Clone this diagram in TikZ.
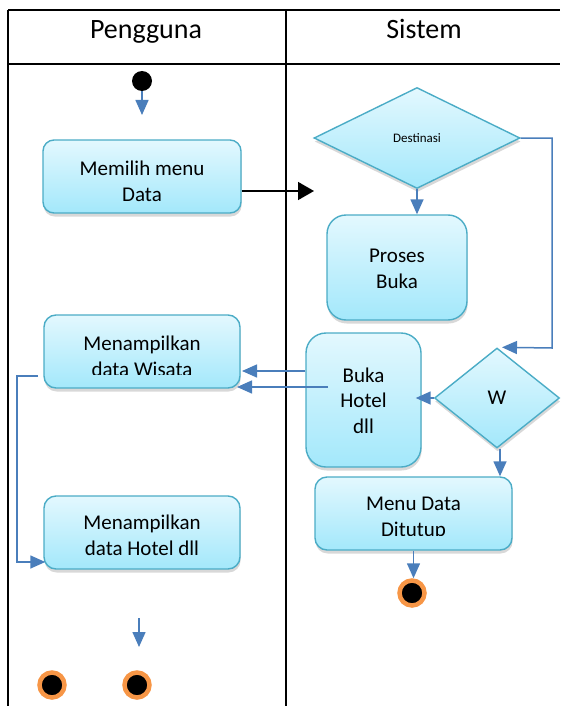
\documentclass[tikz,border=0pt]{standalone}
\usepackage{fontspec}
\setmainfont{Carlito}
\usetikzlibrary{arrows.meta,shapes.geometric,shadows}
\definecolor{boxborder}{HTML}{4BACC6}
\definecolor{boxtop}{HTML}{E3F8FE}
\definecolor{boxbot}{HTML}{A3E8FB}
\definecolor{arrowblue}{HTML}{4A7EBB}
\definecolor{endorange}{HTML}{F79646}
\begin{document}
\begin{tikzpicture}[x=1pt,y=-1pt,
  tbl/.style={draw=black,line width=1.4pt},
  hdr/.style={font=\fontsize{28pt}{34pt}\selectfont,inner sep=0pt,anchor=base},
  txt/.style={font=\fontsize{21pt}{25.5pt}\selectfont,align=center,inner sep=0pt},
  shadowed/.style={drop shadow={shadow xshift=0.6pt,shadow yshift=-3.5pt,opacity=0.28,fill=black!55}},
  actbox/.style={draw=boxborder,line width=1.4pt,rounded corners=#1,
    top color=boxtop,bottom color=boxbot,shadowed,inner sep=0pt},
  decision/.style={diamond,draw=boxborder,line width=1.4pt,
    top color=boxtop,bottom color=boxbot,shadowed,inner sep=0pt},
  startdot/.style={circle,fill=black,minimum size=20pt,inner sep=0pt},
  enddot/.style={circle,fill=black,draw=endorange,line width=4.5pt,minimum size=25pt,inner sep=0pt},
  arr/.style={draw=arrowblue,line width=1.5pt,-{Triangle[length=15pt,width=13pt]}},
  blk/.style={draw=black,line width=1.5pt,-{Triangle[length=16pt,width=18pt]}}
]
\useasboundingbox (0,0) rectangle (560,706);

% swimlane frame
\draw[tbl] (8,10) -- (560,10);
\draw[tbl] (8,64) -- (560,64);
\draw[tbl] (8,10) -- (8,706);
\draw[tbl] (286,10) -- (286,706);

\node[hdr] (pengguna) at (146,39) {Pengguna};
\node[hdr] (sistem) at (424,39) {Sistem};

% start / end
\node[startdot] (start) at (142,81) {};
\node[enddot] (end1) at (412,593) {};
\node[enddot] (end2) at (52,685) {};
\node[enddot] (end3) at (137,685) {};

% activities
\node[actbox=11pt,minimum width=198pt,minimum height=73pt] (memilih) at (142,176.5) {};
\node[txt] (memilih-t) at (142,181.5) {Memilih menu\\Data};

\node[decision,minimum width=206pt,minimum height=101pt,
  font=\fontsize{13pt}{15pt}\selectfont] (dest) at (417,138) {Destinasi};

\node[actbox=19pt,minimum width=140pt,minimum height=105pt] (proses) at (397,267.5) {};
\node[txt] (proses-t) at (397,269) {Proses\\Buka};

\node[actbox=12pt,minimum width=196pt,minimum height=73pt] (wisata) at (142,351.5) {};
\begin{scope}
  \clip (0,0) rectangle (560,374);
  \node[txt] (wisata-t) at (142,356.5) {Menampilkan\\data Wisata};
\end{scope}

\node[actbox=20pt,minimum width=115pt,minimum height=134pt] (buka) at (363.5,400) {};
\node[txt] (buka-t) at (363.5,400.5) {Buka\\Hotel\\dll};

\node[decision,minimum width=125pt,minimum height=100pt,
  font=\fontsize{21pt}{25pt}\selectfont] (w) at (497,398) {W};

\node[actbox=12pt,minimum width=196pt,minimum height=73pt] (hotel) at (142,532.5) {};
\node[txt] (hotel-t) at (142,535.5) {Menampilkan\\data Hotel dll};

\node[actbox=12pt,minimum width=197pt,minimum height=73pt] (menu) at (413.5,513.5) {};
\begin{scope}
  \clip (0,0) rectangle (560,535);
  \node[txt] (menu-t) at (413.5,518.5) {Menu Data\\Ditutup};
\end{scope}

% connectors
\coordinate (a1) at (142,115);
\draw[arr] (start.south) -- (a1);

\coordinate (b1) at (314,191);
\draw[blk] (memilih.east |- b1) -- (b1);

\draw[arr] (dest.south) -- (dest.south |- proses.north);

\coordinate (c1) at (552,348);
\draw[arr] (dest.east) -| (c1) -- ([xshift=5pt]w.north);

\draw[arr] (w.west) -- ([xshift=-6pt]w.west -| buka.east);

\draw[arr] ([xshift=3pt]w.south) -- ([xshift=3pt]w.south |- menu.north);

\draw[arr] (menu.south) -- (menu.south |- end1.north);

\coordinate (d1) at (242,371);
\draw[arr] (buka.west |- d1) -- (d1);

\coordinate (e1) at (328,387);
\coordinate (e2) at (237,387);
\draw[arr] (e1) -- (e2);

\coordinate (f1) at (38,376);
\coordinate (f2) at (17,562);
\draw[arr] (f1) -| (f2) -- ([xshift=2pt]hotel.west |- f2);

\coordinate (g1) at (139,618);
\coordinate (g2) at (139,647);
\draw[arr] (g1) -- (g2);
\end{tikzpicture}
\end{document}
